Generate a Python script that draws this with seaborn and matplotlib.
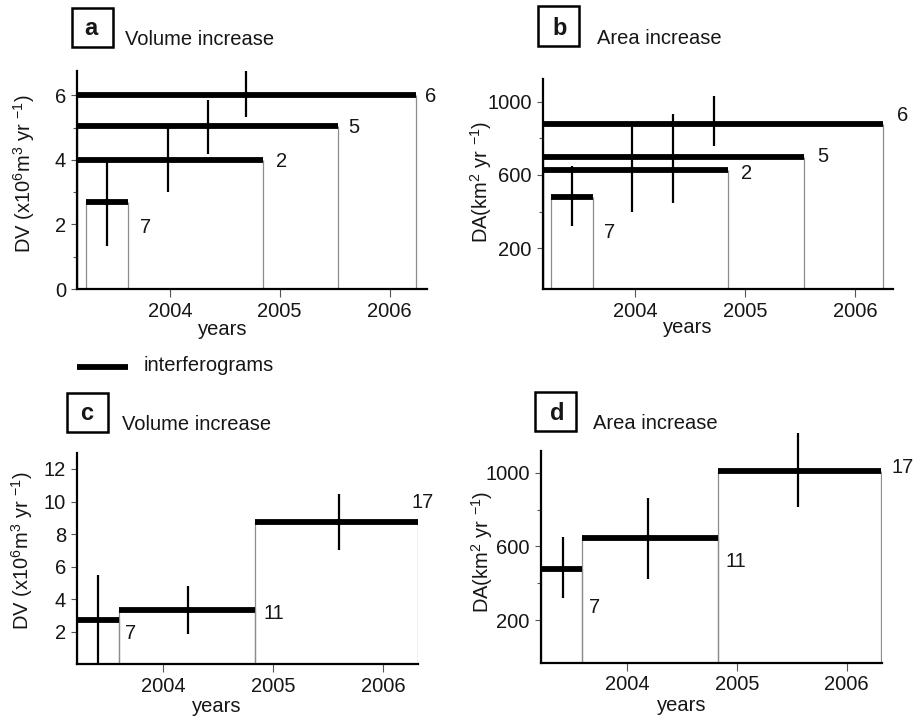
import numpy as np
import pandas as pd
import matplotlib
matplotlib.use("Agg")
import matplotlib.pyplot as plt
import seaborn as sns
from matplotlib.patches import Rectangle
from matplotlib.lines import Line2D

# ---------------- data ----------------
years_ticks = [2004, 2005, 2006]

# panel a : volume increase, overlapping interferogram intervals
labels_a = ["7", "2", "5", "6"]
start_a = [2003.24, 2003.155, 2003.155, 2003.155]
end_a = [2003.62, 2004.85, 2005.53, 2006.24]
dv_a = [2.70, 4.00, 5.06, 6.00]
errx_a = [2003.43, 2003.98, 2004.35, 2004.69]
errlo_a = [1.33, 3.01, 4.18, 5.34]
errhi_a = [3.94, 5.00, 5.85, 6.76]

# panel b : area increase, overlapping intervals
labels_b = ["7", "2", "5", "6"]
start_b = [2003.24, 2003.16, 2003.16, 2003.16]
end_b = [2003.62, 2004.85, 2005.54, 2006.26]
da_b = [478, 627, 700, 876]
errx_b = [2003.43, 2003.97, 2004.35, 2004.72]
errlo_b = [322, 398, 449, 760]
errhi_b = [650, 867, 931, 1031]

# panel c : volume increase, consecutive intervals
labels_c = ["7", "11", "17"]
start_c = [2003.22, 2003.60, 2004.84]
end_c = [2003.60, 2004.84, 2006.32]
dv_c = [2.72, 3.31, 8.73]
errx_c = [2003.41, 2004.23, 2005.60]
errlo_c = [0.0, 1.88, 7.01]
errhi_c = [5.48, 4.80, 10.49]

# panel d : area increase, consecutive intervals
labels_d = ["7", "11", "17"]
start_d = [2003.21, 2003.59, 2004.83]
end_d = [2003.59, 2004.83, 2006.31]
da_d = [477, 647, 1009]
errx_d = [2003.41, 2004.19, 2005.56]
errlo_d = [318, 423, 816]
errhi_d = [649, 865, 1215]

# ---------------- style ----------------
sns.set_theme(style="white")
plt.rcParams["font.family"] = ["Liberation Sans", "DejaVu Sans"]
plt.rcParams["mathtext.default"] = "regular"
plt.rcParams["axes.unicode_minus"] = False
plt.rcParams["text.color"] = "#161616"
plt.rcParams["xtick.labelcolor"] = "#161616"
plt.rcParams["ytick.labelcolor"] = "#161616"

FS = 14.5
W, H = 914, 722
fig = plt.figure(figsize=(W / 100, H / 100), dpi=100)


def px_axes(left, top, right, bottom):
    return fig.add_axes([left / W, 1 - bottom / H, (right - left) / W, (bottom - top) / H])


def draw_panel(ax, start, end, val, ex, elo, ehi, labels, offsets, xlim, ylim,
               yticks, yminor):
    ax.set_xlim(*xlim)
    ax.set_ylim(*ylim)
    # thin box outlines
    ybot = ylim[0]
    ax.vlines(start, ybot, val, color="#8c8c8c", lw=0.9, zorder=1)
    ax.vlines(end, ybot, val, color="#8c8c8c", lw=0.9, zorder=1)
    # thick interferogram bars via seaborn
    rows = []
    for i, (s, e, v) in enumerate(zip(start, end, val)):
        rows.append({"x": s, "y": v, "id": i})
        rows.append({"x": e, "y": v, "id": i})
    df = pd.DataFrame(rows)
    sns.lineplot(data=df, x="x", y="y", units="id", estimator=None, color="black",
                 lw=4.2, solid_capstyle="butt", ax=ax, zorder=3, legend=False)
    # error bars
    ax.vlines(ex, elo, ehi, color="black", lw=1.6, zorder=4, clip_on=False)
    # labels
    for lab, e, v, (dx, dy) in zip(labels, end, val, offsets):
        ax.annotate(lab, (e, v), xytext=(dx, -dy), textcoords="offset pixels",
                    ha="left", va="center", fontsize=FS,
                    annotation_clip=False)
    ax.set_xticks(years_ticks)
    ax.set_xticklabels([str(y) for y in years_ticks])
    ax.set_yticks(yticks)
    ax.set_yticklabels([str(t) for t in yticks])
    ax.set_yticks(yminor, minor=True)
    ax.set_xlabel("")
    ax.set_ylabel("")
    for s in ["top", "right"]:
        ax.spines[s].set_visible(False)
    for s in ["left", "bottom"]:
        ax.spines[s].set_color("black")
        ax.spines[s].set_linewidth(1.6)
    ax.tick_params(axis="x", which="major", direction="out", length=6, width=0.8,
                   color="#555555", labelsize=FS, pad=3, bottom=True)
    ax.tick_params(axis="y", which="major", direction="out", length=4, width=0.8,
                   color="#555555", labelsize=FS, pad=4, left=True)
    ax.tick_params(axis="y", which="minor", direction="out", length=3, width=0.8,
                   color="#555555", left=True)
    ax.set_facecolor("none")
    ax.grid(False)


ax_a = px_axes(77, 71, 427, 289)
draw_panel(ax_a, start_a, end_a, dv_a, errx_a, errlo_a, errhi_a, labels_a,
           [(12, 26), (13, 2), (10, 2), (9, 1)],
           (2003.155, 2006.34), (0, 6.75), [0, 2, 4, 6], [1, 3, 5])

ax_b = px_axes(542.7, 79.3, 893.3, 289.3)
draw_panel(ax_b, start_b, end_b, da_b, errx_b, errlo_b, errhi_b, labels_b,
           [(11, 35), (13, 3), (13, 0), (14, -9)],
           (2003.16, 2006.35), (-24, 1122), [200, 600, 1000], [400, 800])

ax_c = px_axes(77.3, 452.7, 418.3, 664.3)
draw_panel(ax_c, start_c, end_c, dv_c, errx_c, errlo_c, errhi_c, labels_c,
           [(6, 13), (8, 3), (-7, -20)],
           (2003.22, 2006.32), (0, 13.0), [2, 4, 6, 8, 10, 12], [])

ax_d = px_axes(540.7, 450.7, 881.7, 662.7)
draw_panel(ax_d, start_d, end_d, da_d, errx_d, errlo_d, errhi_d, labels_d,
           [(7, 38), (7, 24), (11, -4)],
           (2003.21, 2006.32), (-32, 1120), [200, 600, 1000], [400, 800])


def ftext(x, y, s, **kw):
    fig.text(x / W, 1 - y / H, s, **kw)


# y labels
ylab_v = r"DV (x10$^{6}$m$^{3}$ yr $^{-1}$)"
ylab_a = r"DA(km$^{2}$ yr $^{-1}$)"
ftext(24.5, 174, ylab_v, rotation=90, ha="center", va="center", fontsize=FS)
ftext(481, 182, ylab_a, rotation=90, ha="center", va="center", fontsize=FS)
ftext(21.7, 551, ylab_v, rotation=90, ha="center", va="center", fontsize=FS)
ftext(481.7, 551.5, ylab_a, rotation=90, ha="center", va="center", fontsize=FS)

# x labels
for (x, y) in [(223, 335), (688, 333), (216.7, 711.5), (681.7, 711)]:
    ftext(x, y, "years", ha="center", va="baseline", fontsize=FS)

# panel letter boxes and titles
boxes = [("a", 72, 8, 112.7, 46.7, 90.8, 35, "Volume increase", 125, 45),
         ("b", 537.7, 6, 579.3, 46, 560, 35, "Area increase", 596.7, 44),
         ("c", 66.7, 392.7, 108.3, 431.7, 86.7, 420, "Volume increase", 121.7, 430),
         ("d", 535, 391.7, 576, 430.7, 557.5, 420, "Area increase", 593.3, 429.3)]
for letter, x0, y0, x1, y1, lx, ly, title, tx, ty in boxes:
    fig.add_artist(Rectangle((x0 / W, 1 - y1 / H), (x1 - x0) / W, (y1 - y0) / H,
                             transform=fig.transFigure, fill=False, ec="black", lw=1.8))
    ftext(lx, ly, letter, ha="center", va="baseline", fontsize=17, fontweight="bold")
    ftext(tx, ty, title, ha="left", va="baseline", fontsize=FS)

# legend
fig.add_artist(Line2D([76.7 / W, 127.7 / W], [1 - 367.3 / H, 1 - 367.3 / H],
                      transform=fig.transFigure, color="black", lw=4.2,
                      solid_capstyle="butt"))
ftext(143.3, 371, "interferograms", ha="left", va="baseline", fontsize=FS)

fig.savefig("out.png", dpi=100, facecolor="white")
